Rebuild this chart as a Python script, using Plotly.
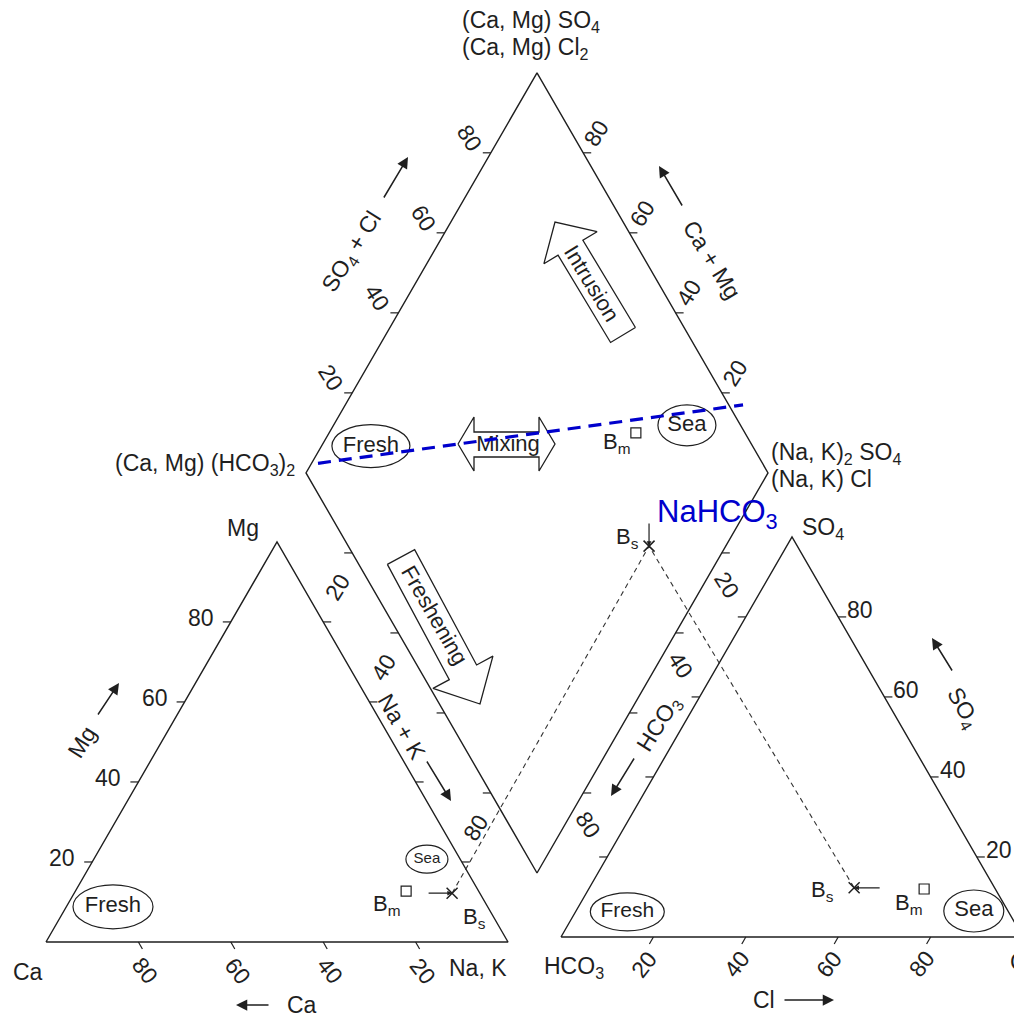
import math
import plotly.graph_objects as go

# ---------------- data (percent of meq/L) ----------------
samples = ["Fresh", "Sea", "Bm", "Bs"]
# cation triangle
cat_mg = [8.8, 20.7, 12.7, 12.2]
cat_nak = [10.1, 72.1, 71.6, 81.8]
# anion triangle
an_so4 = [6.3, 6.5, 12.0, 12.3]
an_cl = [11.2, 86.1, 72.6, 57.3]
# diamond field
dia_nak = [10.7, 76.5, 66.4, 83.4]
dia_so4cl = [17.4, 88.4, 76.4, 65.1]
# blue mixing line drawn across the diamond (two end members)
mix_nak = [1.4, 86.1]
mix_so4cl = [3.8, 103.1]
# axis tick labels
tick_values = [20, 40, 60, 80]
gap_tick_values = [20, 40, 80]

# ---------------- geometry ----------------
W, H = 1022, 1017             # window
PAGE_OFF = 8                  # default body margin of the html page
S = 4.62                      # screen px per percent unit
OX, OY = 46.0, 942.0          # Ca corner of cation triangle (screen px)
SQ = math.sqrt(3) / 2
FONT = "Liberation Sans, Arial, Helvetica, sans-serif"
INK = "#1f1f1f"
BLUE = "#0000cc"
FS = 23


def P(px, py):
    return ((px - OX) / S, (OY - py) / S)


def off(pt, dx, dy):
    return (pt[0] + dx / S, pt[1] - dy / S)


R0 = P(561, 937)   # HCO3 corner of anion triangle
D0 = P(537, 873)   # bottom corner of diamond


def cat_xy(mg, nak):
    return (nak + mg / 2.0, mg * SQ)


def an_xy(so4, cl):
    return (R0[0] + cl + so4 / 2.0, R0[1] + so4 * SQ)


def dia_xy(nak, so4cl):
    camg = 100.0 - nak
    return (D0[0] + (so4cl - camg) / 2.0, D0[1] + (camg + so4cl) * SQ)


fig = go.Figure()


def add_line(pts, width=1.4, color=INK, dash=None, fill=False):
    xs = [p[0] if p is not None else None for p in pts]
    ys = [p[1] if p is not None else None for p in pts]
    fig.add_trace(go.Scatter(
        x=xs, y=ys, mode="lines",
        line=dict(color=color, width=width, dash=dash),
        fill="toself" if fill else None,
        fillcolor="white" if fill else None,
        hoverinfo="skip", showlegend=False))


ann = []


def label(pt, text, size=FS, angle=0, xanchor="center", color=INK,
          family=FONT, xshift=0, yshift=0):
    ann.append(dict(x=pt[0], y=pt[1], xref="x", yref="y", text=text,
                    showarrow=False, textangle=angle, xanchor=xanchor,
                    yanchor="middle", xshift=xshift, yshift=yshift,
                    font=dict(family=family, size=size, color=color)))


def arrow(tip, ax, ay, width=1.5, head=2, size=1.5):
    ann.append(dict(x=tip[0], y=tip[1], xref="x", yref="y", ax=ax, ay=ay,
                    axref="pixel", ayref="pixel", text="", showarrow=True,
                    arrowhead=head, arrowsize=size, arrowwidth=width,
                    arrowcolor=INK, standoff=0))


# ---------------- outlines ----------------
add_line([cat_xy(0, 0), cat_xy(0, 100), cat_xy(100, 0), cat_xy(0, 0)])
add_line([an_xy(0, 0), an_xy(0, 100), an_xy(100, 0), an_xy(0, 0)])
add_line([dia_xy(100, 0), dia_xy(0, 0), dia_xy(0, 100), dia_xy(100, 100), dia_xy(100, 0)])

# ---------------- ticks ----------------
tk = []
TL = 8
for v in tick_values:
    p = cat_xy(v, 0); tk += [p, off(p, -TL, 0), None]            # Mg (left edge)
    p = cat_xy(0, 100 - v); tk += [p, off(p, 4, 7), None]        # Ca (base)
    p = cat_xy(100 - v, v); tk += [p, off(p, TL, 0), None]       # Na+K (right edge)
    p = an_xy(v, 100 - v); tk += [p, off(p, TL, 0), None]        # SO4 (right edge)
    p = an_xy(0, v); tk += [p, off(p, -4, 7), None]              # Cl (base)
    p = an_xy(100 - v, 0); tk += [p, off(p, -TL, 0), None]       # HCO3 (left edge)
    p = dia_xy(0, v); tk += [p, off(p, -TL, 0), None]            # diamond upper-left
    p = dia_xy(100 - v, 100); tk += [p, off(p, TL, 0), None]     # diamond upper-right
    p = dia_xy(v, 0); tk += [p, off(p, -TL, 0), None]            # diamond lower-left
    p = dia_xy(100, 100 - v); tk += [p, off(p, TL, 0), None]     # diamond lower-right
add_line(tk, width=1.2)

# ---------------- tick labels ----------------
for v in tick_values:
    label(off(cat_xy(v, 0), -30, -4), str(v))
    label(off(cat_xy(0, 100 - v), 7, 29), str(v), angle=52)
    label(off(an_xy(v, 100 - v), 22, -7), str(v))
    label(off(an_xy(0, v), -9, 27), str(v), angle=-52)
    label(off(dia_xy(0, v), -21, -15), str(v), angle=58)
    label(off(dia_xy(100 - v, 100), 13, -20), str(v), angle=-58)
for v in gap_tick_values:
    a = dia_xy(v, 0); b = cat_xy(100 - v, v)
    label(((a[0] + b[0]) / 2, (a[1] + b[1]) / 2), str(v), angle=-58)
    a = dia_xy(100, 100 - v); b = an_xy(100 - v, 0)
    label(off(((a[0] + b[0]) / 2, (a[1] + b[1]) / 2), -7, 0), str(v), angle=58)

# ---------------- corner / field labels ----------------
label(P(28, 972), "Ca")
label(P(478, 968), "Na, K")
label(P(243, 528), "Mg")
label(P(574, 967), "HCO<sub>3</sub>")
label(P(823, 528), "SO<sub>4</sub>")
label(P(1008, 962), "Cl", xanchor="left")
label(P(460, 21), "(Ca, Mg) SO<sub>4</sub>", xanchor="left")
label(P(460, 48), "(Ca, Mg) Cl<sub>2</sub>", xanchor="left")
label(P(297, 464), "(Ca, Mg) (HCO<sub>3</sub>)<sub>2</sub>", xanchor="right")
label(P(769, 453), "(Na, K)<sub>2</sub> SO<sub>4</sub>", xanchor="left")
label(P(769, 479), "(Na, K) Cl", xanchor="left")

# ---------------- axis titles with arrows ----------------
label(P(352, 252), "SO<sub>4</sub> + Cl", angle=-58)
arrow(P(408, 157), -25, 42)
label(P(712, 260), "Ca + Mg", angle=58)
arrow(P(659, 166), 24, 41)
label(P(402, 727), "Na + K", angle=60)
arrow(P(451, 801), -25, -41)
label(P(659, 724), "HCO<sub>3</sub>", angle=-58)
arrow(P(611, 796), 24, -39)
label(P(82, 742), "Mg", angle=-58)
arrow(P(119, 683), -22, 33)
label(P(963, 708), "SO<sub>4</sub>", angle=60)
arrow(P(932, 638), 21, 34)
label(P(302, 1005), "Ca")
arrow(P(236, 1005), 34, 0)
label(P(764, 1000), "Cl")
arrow(P(834, 1000), -51, 0)


# ---------------- big process arrows ----------------
def big_arrow(tail, tip, a, b, hl):
    tx, ty = tail; kx, ky = tip
    L = math.hypot(kx - tx, ky - ty)
    dx, dy = (kx - tx) / L, (ky - ty) / L
    nx, ny = -dy, dx
    bx, by = kx - dx * hl, ky - dy * hl
    pts = [(tx + nx * a, ty + ny * a), (bx + nx * a, by + ny * a),
           (bx + nx * b, by + ny * b), (kx, ky), (bx - nx * b, by - ny * b),
           (bx - nx * a, by - ny * a), (tx - nx * a, ty - ny * a),
           (tx + nx * a, ty + ny * a)]
    return [P(*p) for p in pts]


add_line(big_arrow((623, 335), (555, 222), 14.5, 31, 30), width=1.3, fill=True)
add_line(big_arrow((401, 557), (480, 704), 15.5, 34, 36), width=1.3, fill=True)
mx = [(458, 444), (474, 417), (474, 432), (539, 432), (539, 417), (555, 444),
      (539, 471), (539, 457), (474, 457), (474, 471), (458, 444)]
add_line([P(*p) for p in mx], width=1.3, fill=True)
label(P(592, 283), "Intrusion", size=22, angle=58.6)
label(P(435, 615), "Freshening", size=22, angle=60)

# ---------------- projection lines for Bs ----------------
bs_d = dia_xy(dia_nak[3], dia_so4cl[3])
bs_c = cat_xy(cat_mg[3], cat_nak[3])
bs_a = an_xy(an_so4[3], an_cl[3])
add_line([bs_c, bs_d, bs_a], width=1.1, dash="5px,4px", color="#333333")

# ---------------- ellipses and their labels ----------------
shapes = []
regions = [
    ([cat_xy(m, n) for m, n in zip(cat_mg, cat_nak)], [(80, 44), (42, 28)], [22, 15]),
    ([an_xy(s, c) for s, c in zip(an_so4, an_cl)], [(74, 38), (60, 42)], [21, 22]),
    ([dia_xy(n, s) for n, s in zip(dia_nak, dia_so4cl)], [(78, 43), (58, 41)], [22, 22]),
]
for pts, sizes, fs in regions:
    for i in range(2):
        (x, y), (w, h) = pts[i], sizes[i]
        shapes.append(dict(type="circle", xref="x", yref="y", layer="below",
                           x0=x - w / 2 / S, x1=x + w / 2 / S,
                           y0=y - h / 2 / S, y1=y + h / 2 / S,
                           line=dict(color=INK, width=1.2)))
    fig.add_trace(go.Scatter(
        x=[pts[0][0], pts[1][0]], y=[pts[0][1], pts[1][1]], mode="text",
        text=samples[:2], textposition="middle center",
        textfont=dict(family=FONT, size=fs, color=INK),
        hoverinfo="skip", showlegend=False))
    fig.add_trace(go.Scatter(
        x=[pts[2][0]], y=[pts[2][1]], mode="markers",
        marker=dict(symbol="square-open", size=10, color=INK, line=dict(width=1.2)),
        hoverinfo="skip", showlegend=False))
    fig.add_trace(go.Scatter(
        x=[pts[3][0]], y=[pts[3][1]], mode="markers",
        marker=dict(symbol="x-thin-open", size=11, color=INK, line=dict(width=1.5, color=INK)),
        hoverinfo="skip", showlegend=False))

# Bm / Bs labels
bm_c = cat_xy(cat_mg[2], cat_nak[2]); bm_a = an_xy(an_so4[2], an_cl[2]); bm_d = dia_xy(dia_nak[2], dia_so4cl[2])
label(bm_c, "B<sub>m</sub>", size=22, xshift=-19, yshift=-14)
label(bs_c, "B<sub>s</sub>", size=22, xshift=22, yshift=-25)
label(bm_a, "B<sub>m</sub>", size=22, xshift=-15, yshift=-15)
label(bs_a, "B<sub>s</sub>", size=22, xshift=-32, yshift=-3)
label(bm_d, "B<sub>m</sub>", size=22, xshift=-19, yshift=-10)
label(bs_d, "B<sub>s</sub>", size=22, xshift=-22, yshift=8)
arrow(bs_c, -25, 0, width=1.2, size=0.8)
arrow(bs_a, 27, 0, width=1.2, size=0.8)
arrow(bs_d, 0, -24, width=1.2, size=0.8)

# Mixing label (under the blue line)
mxc = P(508, 445)
fig.add_trace(go.Scatter(x=[mxc[0]], y=[mxc[1]], mode="text", text=["Mixing"],
                         textfont=dict(family=FONT, size=22, color=INK),
                         hoverinfo="skip", showlegend=False))

# ---------------- blue mixing line and NaHCO3 ----------------
mpts = [dia_xy(n, s) for n, s in zip(mix_nak, mix_so4cl)]
add_line(mpts, width=3.2, color=BLUE, dash="13px,8px")
label(P(655, 514), "NaHCO<sub>3</sub>", size=31, color=BLUE, xanchor="left")

# visible window (compensating the page's 8px body margin)
x0 = P(PAGE_OFF, 0)[0]
x1 = P(W, 0)[0]
y0 = P(0, H)[1]
y1 = P(0, PAGE_OFF)[1]
fig.update_layout(
    width=W - PAGE_OFF, height=H - PAGE_OFF, margin=dict(l=0, r=0, t=0, b=0),
    paper_bgcolor="white", plot_bgcolor="white",
    xaxis=dict(range=[x0, x1], visible=False, fixedrange=True),
    yaxis=dict(range=[y0, y1], visible=False, fixedrange=True),
    shapes=shapes, annotations=ann, showlegend=False,
)
fig.write_html("out.html")
